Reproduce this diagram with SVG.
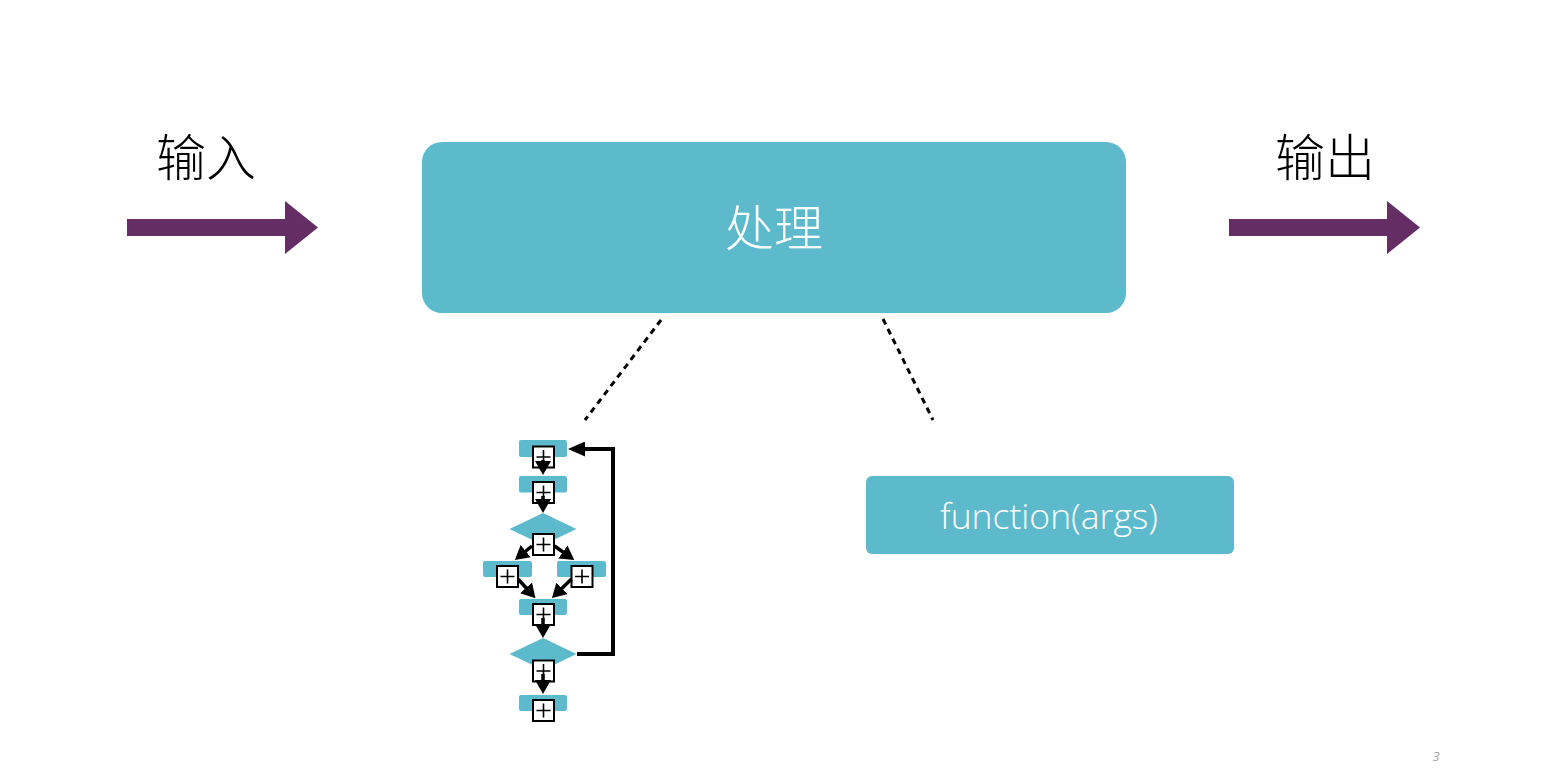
<svg xmlns="http://www.w3.org/2000/svg" width="1558" height="770" viewBox="0 0 1558 770">
<style>
.cjk{font-family:"Noto Sans CJK SC","Noto Sans",sans-serif;font-weight:300;font-size:50px}
.teal{fill:#5cbacc}
.big{fill:#642d64}
.dash{stroke:#000;stroke-width:3;stroke-dasharray:6 5;fill:none}
.flow{stroke:#000;stroke-width:3.5;fill:none}
.fb{stroke:#000;stroke-width:4;fill:none}
</style>
<defs>
<marker id="ah" viewBox="0 0 14 16" refX="10" refY="8" markerWidth="14" markerHeight="16" markerUnits="userSpaceOnUse" orient="auto">
<path d="M0,0L14,8L0,16z" fill="#000"/>
</marker>
<marker id="ahb" viewBox="0 0 17 15" refX="13" refY="7.5" markerWidth="17" markerHeight="15" markerUnits="userSpaceOnUse" orient="auto">
<path d="M0,0L17,7.5L0,15z" fill="#000"/>
</marker>
<g id="pb">
<rect x="-10.5" y="-10.5" width="21" height="21" fill="#fff" stroke="#000" stroke-width="2"/>
<path d="M-7,0H7M0,-7V7" stroke="#000" stroke-width="1.6"/>
</g>
</defs>
<rect width="1558" height="770" fill="#fff"/>

<g id="input">
<text class="cjk" x="206" y="176" text-anchor="middle" fill="#000">输入</text>
<path class="big" d="M127,219H285V201L318,227.5L285,254V236H127z"/>
</g>

<g id="output">
<text class="cjk" x="1325" y="176" text-anchor="middle" fill="#000">输出</text>
<path class="big" d="M1229,219H1387V201L1420,227.5L1387,254V236H1229z"/>
</g>

<g id="process">
<rect class="teal" x="422" y="142" width="704" height="171" rx="20"/>
<text class="cjk" x="774" y="246" text-anchor="middle" fill="#fff" style="font-size:49px">处理</text>
</g>

<g id="function">
<rect class="teal" x="866" y="476" width="368" height="78" rx="6"/>
<text x="1049" y="529" text-anchor="middle" fill="#fff" font-family="'Open Sans','Noto Sans',sans-serif" font-weight="300" font-size="35.5">function(args)</text>
</g>

<g id="connectors">
<line class="dash" x1="661" y1="320" x2="585" y2="420"/>
<line class="dash" x1="883" y1="319" x2="933" y2="420"/>
</g>

<g id="flowchart">
<rect class="teal" x="519" y="440" width="48" height="17" rx="2"/>
<rect class="teal" x="519" y="476" width="48" height="16.5" rx="2"/>
<polygon class="teal" points="543,513 576.5,529 543,545 509.5,529"/>
<rect class="teal" x="483" y="561" width="49" height="16" rx="2"/>
<rect class="teal" x="557" y="561" width="49" height="16" rx="2"/>
<rect class="teal" x="519" y="599" width="48" height="16" rx="2"/>
<polygon class="teal" points="543,638 576.5,654 543,670 509.5,654"/>
<rect class="teal" x="519" y="695" width="48" height="16" rx="2"/>

<use href="#pb" x="543.5" y="457"/>
<use href="#pb" x="543.5" y="492.5"/>
<use href="#pb" x="543.5" y="544.5"/>
<use href="#pb" x="507.5" y="576.5"/>
<use href="#pb" x="582" y="576.5"/>
<use href="#pb" x="543.5" y="614.5"/>
<use href="#pb" x="543.5" y="671"/>
<use href="#pb" x="543.5" y="710.5"/>
</g>

<g id="flow-connectors">
<line class="flow" x1="543" y1="460" x2="543" y2="471" marker-end="url(#ah)"/>
<line class="flow" x1="543" y1="496" x2="543" y2="509" marker-end="url(#ah)"/>
<line class="flow" x1="532" y1="546" x2="518" y2="557.5" marker-end="url(#ah)"/>
<line class="flow" x1="554.5" y1="546" x2="571" y2="557.7" marker-end="url(#ah)"/>
<line class="flow" x1="518" y1="579" x2="532.8" y2="595.2" marker-end="url(#ah)"/>
<line class="flow" x1="571.5" y1="579" x2="554.8" y2="595.3" marker-end="url(#ah)"/>
<line class="flow" x1="543" y1="618" x2="543" y2="634" marker-end="url(#ah)"/>
<line class="flow" x1="543" y1="674" x2="543" y2="690" marker-end="url(#ah)"/>
<polyline class="fb" points="577,654 613,654 613,449 572,449" marker-end="url(#ahb)"/>
</g>

<text x="1436" y="761" text-anchor="middle" fill="#aaa" font-family="'Open Sans','Liberation Sans',sans-serif" font-style="italic" font-size="13">3</text>
</svg>
